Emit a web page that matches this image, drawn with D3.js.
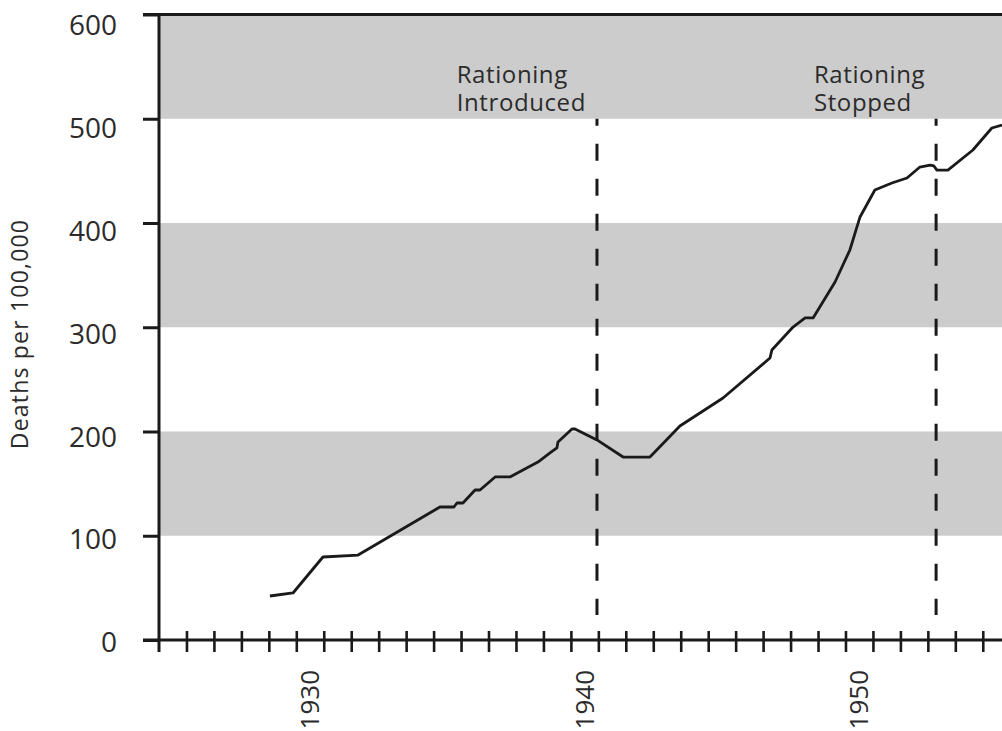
<!DOCTYPE html>
<html>
<head>
<meta charset="utf-8">
<script src="https://cdn.jsdelivr.net/npm/d3@7"></script>
<style>
  html, body { margin: 0; padding: 0; background: #fff; }
  svg { display: block; font-family: "Open Sans", "Noto Sans", sans-serif; }
</style>
</head>
<body>
<svg id="chart" width="1002" height="731"></svg>
<script>
// ---- data ----
const years = [1928.04, 1928.88, 1929.97, 1931.25, 1934.23, 1934.74, 1934.85, 1935.07, 1935.51, 1935.69,
  1936.24, 1936.78, 1937.80, 1938.24, 1938.49, 1938.53, 1939.04, 1939.15, 1939.95, 1940.90,
  1941.88, 1942.97, 1944.54, 1946.25, 1946.32, 1947.09, 1947.53, 1947.82, 1948.62, 1949.16,
  1949.53, 1950.07, 1950.69, 1951.24, 1951.71, 1952.08, 1952.22, 1952.33, 1952.73, 1953.64,
  1954.33, 1954.70];
const deaths = [42.2, 45.1, 79.6, 81.5, 127.6, 127.6, 131.4, 131.4, 143.9, 143.9,
  156.4, 156.4, 170.7, 179.4, 184.2, 189.9, 202.4, 202.4, 191.9, 175.5,
  175.5, 205.3, 232.1, 270.5, 278.2, 300.2, 308.9, 308.9, 343.4, 374.1,
  405.8, 431.7, 438.4, 443.2, 453.7, 455.6, 454.7, 450.8, 450.8, 470.0,
  491.1, 494.0];
const yTicks = [0, 100, 200, 300, 400, 500, 600];
const xTickYears = d3.range(1925, 1955);
const xLabelYears = [1930, 1940, 1950];
const bandStarts = [100, 300, 500];
const bandWidth = 100;
const eventYears = [1939.95, 1952.30];
const eventLabels = [["Rationing", "Introduced"], ["Rationing", "Stopped"]];
const eventRange = [24, 500];
const yTitle = "Deaths per 100,000";

// ---- layout ----
const svg = d3.select("#chart");
const padL = 159, padR = 1002, axisY = 640, padT = 14.5;
const x = d3.scaleLinear().domain([1924, 1954.7]).range([padL, padR]);
const y = d3.scaleLinear().domain([0, 600]).range([axisY, padT]);
const yLabel = d3.scaleLinear().domain([0, 600]).range([642, 25]);
const ink = "#1a1a1a";
const textCol = "#2b2b2b";

// bands
svg.append("g").selectAll("rect").data(bandStarts).join("rect")
  .attr("x", padL).attr("width", padR - padL)
  .attr("y", d => y(d + bandWidth)).attr("height", d => y(d) - y(d + bandWidth))
  .attr("fill", "#cccccc");

// dashed event lines
svg.append("g").selectAll("line").data(eventYears).join("line")
  .attr("x1", d => x(d)).attr("x2", d => x(d))
  .attr("y1", y(eventRange[1])).attr("y2", y(eventRange[0]))
  .attr("stroke", ink).attr("stroke-width", 3)
  .attr("stroke-dasharray", "17,18").attr("stroke-dashoffset", 10);

// data line
const line = d3.line().x((d, i) => x(years[i])).y(d => y(d));
svg.append("path").datum(deaths)
  .attr("d", line).attr("fill", "none")
  .attr("stroke", ink).attr("stroke-width", 2.8)
  .attr("stroke-linejoin", "round");

// y axis
const yAxis = d3.axisLeft(y).tickValues(yTicks).tickSize(16).tickPadding(26);
const gy = svg.append("g").attr("transform", `translate(${padL},0)`).call(yAxis);
gy.select(".domain").remove();
gy.selectAll(".tick line").attr("stroke", ink).attr("stroke-width", 3);
gy.selectAll(".tick text")
  .attr("font-size", 28).attr("fill", textCol)
  .attr("font-family", "'Open Sans', sans-serif")
  .attr("dy", "0.35em")
  .attr("y", d => yLabel(d) - y(d));
svg.append("line")
  .attr("x1", padL).attr("x2", padL).attr("y1", y(600) - 1.5).attr("y2", axisY + 12)
  .attr("stroke", ink).attr("stroke-width", 3);
// top frame line
svg.append("line")
  .attr("x1", padL - 16).attr("x2", padR).attr("y1", y(600)).attr("y2", y(600))
  .attr("stroke", ink).attr("stroke-width", 3);

// x axis
const xAxis = d3.axisBottom(x).tickValues(xTickYears).tickSize(12)
  .tickFormat(d => xLabelYears.includes(d) ? String(d) : "");
const gx = svg.append("g").attr("transform", `translate(0,${axisY})`).call(xAxis);
gx.select(".domain").remove();
gx.selectAll(".tick line").attr("y1", -9).attr("stroke", ink).attr("stroke-width", 2.6);
gx.selectAll(".tick text")
  .attr("font-size", 26).attr("fill", textCol)
  .attr("font-family", "'Open Sans', sans-serif")
  .attr("transform", "rotate(-90)")
  .attr("text-anchor", "end")
  .attr("x", -30).attr("y", -5).attr("dy", "0");
svg.append("line")
  .attr("x1", padL - 16).attr("x2", padR).attr("y1", axisY).attr("y2", axisY)
  .attr("stroke", ink).attr("stroke-width", 3);

// y title
svg.append("text")
  .attr("transform", `translate(28,${334}) rotate(-90)`)
  .attr("text-anchor", "middle")
  .attr("font-size", 23).attr("letter-spacing", "1.2px")
  .attr("fill", textCol)
  .text(yTitle);

// event labels
eventYears.forEach((yr, i) => {
  const g = svg.append("g");
  const t = g.append("text").attr("font-size", 24).attr("letter-spacing", "0.6px").attr("fill", textCol);
  eventLabels[i].forEach((s, j) => {
    t.append("tspan").attr("x", 0).attr("y", 83 + j * 28).text(s);
  });
  const w = d3.max(t.selectAll("tspan").nodes(), n => n.getComputedTextLength());
  g.attr("transform", `translate(${x(yr) - w - 11},0)`);
});
</script>
</body>
</html>
